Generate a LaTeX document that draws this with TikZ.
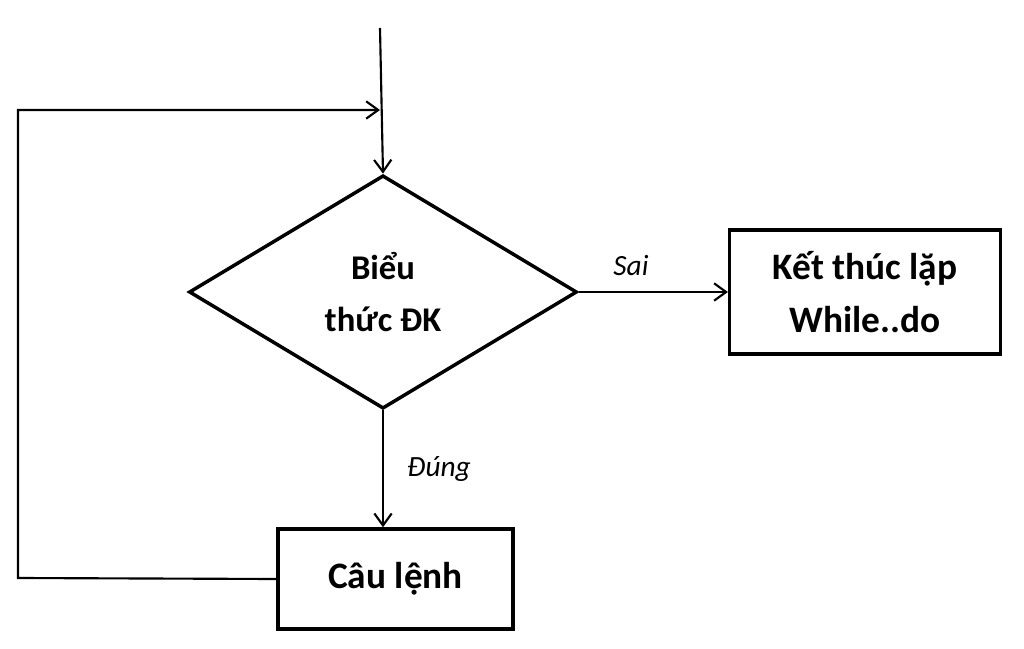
\documentclass[tikz,border=0pt]{standalone}
\usepackage{fontspec}
\setmainfont{Carlito}
\usetikzlibrary{shapes.geometric,arrows.meta}
\begin{document}
\begin{tikzpicture}[x=0.75pt,y=-0.75pt,
  line width=1.6pt,
  arr/.style={-{Straight Barb[length=9pt,width=13pt,line width=1.6pt]}},
  box/.style={draw,line width=2.6pt,inner sep=0,font=\fontsize{26}{39}\selectfont\bfseries,align=center},
  lbl/.style={font=\fontsize{22}{24}\selectfont\itshape}]
\useasboundingbox (0,0) rectangle (1024,649);
\node[box,shape=diamond,aspect=1.665,minimum width=291pt,minimum height=175pt] (d) at (383,292) {Biểu\\thức ĐK};
\node[box,font=\fontsize{28}{40}\selectfont\bfseries,minimum width=203pt,minimum height=93pt] (k) at (865,292) {Kết thúc lặp\\While..do};
\node[box,font=\fontsize{28}{40}\selectfont\bfseries,minimum width=176pt,minimum height=75pt] (c) at (395.5,579) {Câu lệnh};
\coordinate (s) at (380,28);
\coordinate (l1) at (18,578);
\coordinate (l2) at (18,110);
\coordinate (l3) at (380,110);
\draw[arr] (s) -- (d.north);
\draw[arr] (c.west) -- (l1) -- (l2) -- (l3);
\draw[arr] (d.east) -- (k.west) node[lbl,pos=0.35,above=8pt] {Sai};
\draw[arr] (d.south) -- (c.north-|d.south) node[lbl,midway,right=14pt] {Đúng};
\end{tikzpicture}
\end{document}
